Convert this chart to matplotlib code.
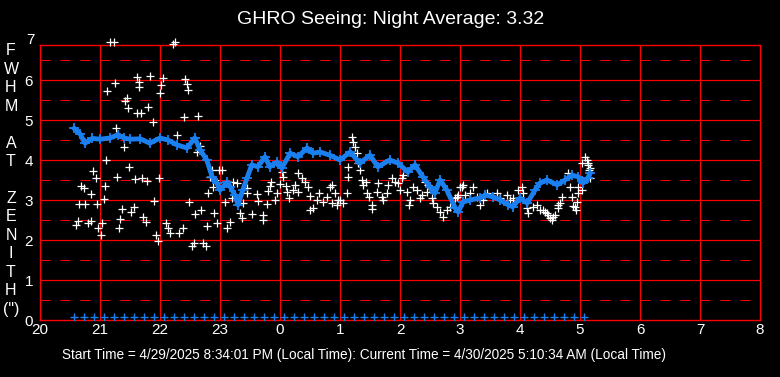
import matplotlib.pyplot as plt
from matplotlib.transforms import blended_transform_factory

# clock hours, continuing past midnight (24 = 0:00, 29 = 5:00)
avg_t = [20.57, 20.67, 20.75, 20.87, 21.00, 21.17, 21.30, 21.40, 21.50, 21.67,
         21.83, 22.00, 22.13, 22.28, 22.45, 22.58, 22.67, 22.78, 22.87, 22.95,
         23.00, 23.12, 23.17, 23.25, 23.30, 23.38, 23.45, 23.53, 23.63, 23.75,
         23.83, 23.95, 24.03, 24.17, 24.30, 24.45, 24.55, 24.67, 24.83, 25.00,
         25.17, 25.33, 25.50, 25.63, 25.83, 25.97, 26.13, 26.25, 26.38, 26.50,
         26.58, 26.67, 26.78, 26.92, 26.97, 27.05, 27.17, 27.33, 27.42, 27.55,
         27.67, 27.80, 27.88, 28.00, 28.12, 28.25, 28.33, 28.45, 28.62, 28.75,
         28.87, 28.97, 29.05, 29.13, 29.17]
avg_fwhm = [4.79, 4.65, 4.42, 4.54, 4.52, 4.55, 4.63, 4.55, 4.52, 4.53,
            4.42, 4.55, 4.50, 4.38, 4.30, 4.55, 4.25, 4.00, 3.58, 3.42,
            3.25, 3.45, 3.33, 3.12, 2.88, 3.25, 3.55, 3.88, 3.83, 4.08,
            3.83, 3.95, 3.80, 4.17, 4.08, 4.30, 4.17, 4.20, 4.12, 4.00,
            4.20, 3.92, 4.12, 3.83, 4.00, 3.92, 3.70, 3.88, 3.58, 3.33,
            3.17, 3.50, 3.25, 2.80, 2.70, 2.95, 3.00, 3.05, 3.12, 3.08,
            3.00, 2.88, 2.83, 3.05, 2.92, 3.25, 3.42, 3.50, 3.38, 3.50,
            3.62, 3.58, 3.42, 3.55, 3.67]

pt_t = [20.60, 20.63, 20.65, 20.68, 20.73, 20.75, 20.80, 20.85, 20.85, 20.88,
        20.93, 20.95, 20.97, 21.02, 21.03, 21.07, 21.08, 21.10, 21.12, 21.17,
        21.23, 21.25, 21.27, 21.28, 21.32, 21.33, 21.37, 21.40, 21.42, 21.45,
        21.47, 21.48, 21.52, 21.57, 21.58, 21.62, 21.62, 21.65, 21.65, 21.68,
        21.70, 21.72, 21.77, 21.78, 21.80, 21.83, 21.88, 21.90, 21.93, 21.97,
        21.98, 22.00, 22.02, 22.05, 22.10, 22.13, 22.17, 22.22, 22.25, 22.28,
        22.32, 22.38, 22.40, 22.42, 22.45, 22.47, 22.48, 22.53, 22.57, 22.58,
        22.62, 22.63, 22.67, 22.68, 22.72, 22.77, 22.78, 22.80, 22.83, 22.87,
        22.88, 22.90, 22.92, 22.95, 22.98, 23.03, 23.08, 23.12, 23.17, 23.20,
        23.22, 23.28, 23.33, 23.37, 23.38, 23.45, 23.45, 23.53, 23.62, 23.63,
        23.72, 23.72, 23.78, 23.80, 23.83, 23.85, 23.92, 23.95, 24.00, 24.03,
        24.05, 24.10, 24.12, 24.15, 24.22, 24.25, 24.30, 24.30, 24.37, 24.42,
        24.47, 24.50, 24.50, 24.55, 24.62, 24.65, 24.72, 24.78, 24.83, 24.87,
        24.87, 24.92, 24.95, 24.97, 25.00, 25.05, 25.12, 25.13, 25.13, 25.20,
        25.22, 25.25, 25.28, 25.30, 25.33, 25.37, 25.38, 25.43, 25.45, 25.48,
        25.53, 25.53, 25.62, 25.63, 25.70, 25.72, 25.78, 25.80, 25.87, 25.92,
        25.97, 26.00, 26.03, 26.05, 26.12, 26.15, 26.17, 26.22, 26.28, 26.33,
        26.37, 26.42, 26.45, 26.47, 26.53, 26.55, 26.62, 26.67, 26.72, 26.78,
        26.83, 26.92, 26.95, 26.97, 27.00, 27.03, 27.05, 27.08, 27.17, 27.22,
        27.28, 27.33, 27.38, 27.45, 27.62, 27.67, 27.78, 27.83, 27.88, 27.97,
        28.03, 28.05, 28.12, 28.13, 28.22, 28.28, 28.33, 28.38, 28.42, 28.45,
        28.47, 28.50, 28.53, 28.55, 28.58, 28.63, 28.63, 28.67, 28.70, 28.80,
        28.83, 28.87, 28.88, 28.92, 28.93, 28.95, 28.97, 28.97, 29.03, 29.03,
        29.03, 29.08, 29.12, 29.13, 29.13, 29.15, 29.17, 29.17]
pt_fwhm = [2.38, 2.48, 2.90, 3.35, 3.30, 2.90, 2.43, 2.48, 3.15, 3.72,
           3.55, 2.90, 2.30, 2.13, 2.43, 3.03, 3.35, 4.00, 5.72, 6.94,
           6.94, 5.93, 4.80, 3.58, 2.30, 2.53, 2.78, 4.33, 5.48, 5.55,
           5.30, 3.83, 2.70, 2.83, 3.53, 6.07, 5.18, 5.95, 5.83, 5.18,
           3.55, 2.58, 2.45, 3.48, 5.33, 6.10, 4.95, 2.98, 2.13, 1.98,
           3.55, 5.67, 5.88, 6.05, 2.43, 2.30, 2.18, 6.90, 6.94, 4.63,
           2.18, 2.30, 5.08, 6.03, 5.90, 5.75, 2.95, 1.85, 1.93, 2.65,
           4.20, 5.10, 4.35, 2.75, 1.93, 1.85, 2.35, 3.18, 3.58, 3.75,
           3.33, 2.68, 3.50, 2.43, 3.75, 3.75, 2.95, 2.30, 2.45, 3.05,
           3.45, 3.42, 2.68, 2.55, 2.93, 3.30, 3.18, 2.65, 3.15, 2.97,
           2.63, 2.50, 2.90, 3.23, 3.35, 3.45, 3.00, 3.18, 3.40, 3.70,
           3.58, 3.35, 3.20, 3.05, 3.25, 3.38, 3.67, 3.20, 3.55, 3.45,
           3.33, 3.10, 2.75, 2.80, 3.00, 3.18, 2.95, 3.08, 3.33, 3.38,
           2.93, 3.18, 2.88, 3.00, 3.00, 2.93, 3.18, 3.83, 3.58, 4.58,
           4.45, 4.33, 4.17, 3.92, 3.75, 3.50, 3.38, 3.45, 3.18, 3.08,
           2.88, 2.78, 3.20, 3.42, 3.08, 3.00, 3.18, 3.38, 3.55, 3.45,
           3.42, 3.25, 3.55, 3.62, 3.20, 2.88, 3.00, 3.33, 3.25, 3.05,
           3.12, 3.45, 3.20, 3.38, 3.05, 2.93, 2.83, 2.70, 2.58, 2.75,
           2.83, 3.05, 3.08, 3.12, 3.33, 3.33, 3.38, 3.12, 3.18, 3.33,
           3.08, 2.88, 3.00, 3.18, 3.18, 3.05, 3.12, 3.00, 3.05, 3.25,
           3.33, 3.18, 2.80, 2.68, 2.83, 2.88, 2.75, 2.75, 2.70, 2.68,
           2.63, 2.55, 2.50, 2.58, 2.63, 2.88, 2.80, 2.93, 3.08, 3.67,
           3.33, 3.08, 2.85, 2.83, 2.75, 2.95, 3.18, 3.33, 3.25, 3.50,
           3.92, 4.08, 4.00, 3.88, 3.92, 3.75, 3.55, 3.80]

# sample markers along the bottom, minutes after 20:00
sample_min = [34, 44, 54, 64, 74, 84, 94, 104, 114, 124, 134, 144, 154,
              164, 174, 184, 194, 204, 214, 224, 234, 244, 254, 264, 274,
              284, 294, 304, 314, 324, 334, 344, 354, 364, 374, 384, 394,
              404, 414, 424, 434, 444, 454, 464, 474, 484, 494, 504, 514,
              524, 534, 544]
sample_level = 0.075

hour_ticks = [20, 21, 22, 23, 24, 25, 26, 27, 28, 29, 30, 31, 32]
hour_labels = ['20', '21', '22', '23', '0', '1', '2', '3', '4', '5', '6', '7', '8']
fwhm_ticks = [0, 1, 2, 3, 4, 5, 6, 7]

title = 'GHRO Seeing: Night Average: 3.32'
footer = ('Start Time = 4/29/2025 8:34:01 PM (Local Time): '
          'Current Time = 4/30/2025 5:10:34 AM (Local Time)')
ylabel = 'F\nW\nH\nM\n\nA\nT\n\nZ\nE\nN\nI\nT\nH\n(")'

plt.rcParams['font.family'] = ['Liberation Sans', 'DejaVu Sans']
red = '#ff0000'
blue = '#1a80f0'

fig = plt.figure(figsize=(7.8, 3.77), dpi=100, facecolor='black')
ax = fig.add_axes([40 / 780, 57 / 377, 720 / 780, 275 / 377])
ax.set_facecolor('black')
ax.set_xlim(20, 32)
ax.set_ylim(0, 6.875)

for s in ax.spines.values():
    s.set_color(red)
    s.set_linewidth(1.0)

# grid
ax.vlines(hour_ticks[1:-1], 0, 6.875, colors=red, lw=0.9, zorder=1)
ax.hlines([1, 2, 3, 4, 5, 6], 20, 32, colors=red, lw=0.9, zorder=1)
ax.hlines([0.5, 1.5, 2.5, 3.5, 4.5, 5.5, 6.5], 20, 32, colors=red, lw=0.72,
          linestyles=(0, (10, 10)), zorder=1)

# data
ax.plot(pt_t, pt_fwhm, '+', color='white', ms=5.5, mew=0.9, zorder=3, clip_on=False)
ax.plot(avg_t, avg_fwhm, '-', color=blue, lw=3.5, zorder=4)
ax.plot(avg_t, avg_fwhm, '+', color=blue, ms=6.5, mew=1.3, zorder=4)
ax.plot([20 + m / 60 for m in sample_min], [sample_level] * len(sample_min), '+',
        color=blue, ms=6, mew=1.0, zorder=4)

ax.set_xticks(hour_ticks)
ax.set_xticklabels(hour_labels)
ax.set_yticks(fwhm_ticks[:-1])
ax.tick_params(colors='white', labelsize=11, length=0, pad=5)
ax.tick_params(axis='x', pad=2)
trans = blended_transform_factory(ax.transAxes, ax.transData)
ax.text(-0.007, fwhm_ticks[-1], str(fwhm_ticks[-1]), transform=trans, ha='right',
        va='center', color='white', fontsize=11, clip_on=False)

fig.text(391 / 780, 1 - 20 / 377, title, ha='center', va='center', color='white',
         fontsize=14)
fig.text(11 / 780, 1 - 180 / 377, ylabel, ha='center', va='center', color='white',
         fontsize=11.5, linespacing=1.29)
fig.text(364 / 780, 1 - 355 / 377, footer, ha='center', va='center', color='white',
         fontsize=9.8)

fig.savefig('out.png', dpi=100, facecolor='black')
